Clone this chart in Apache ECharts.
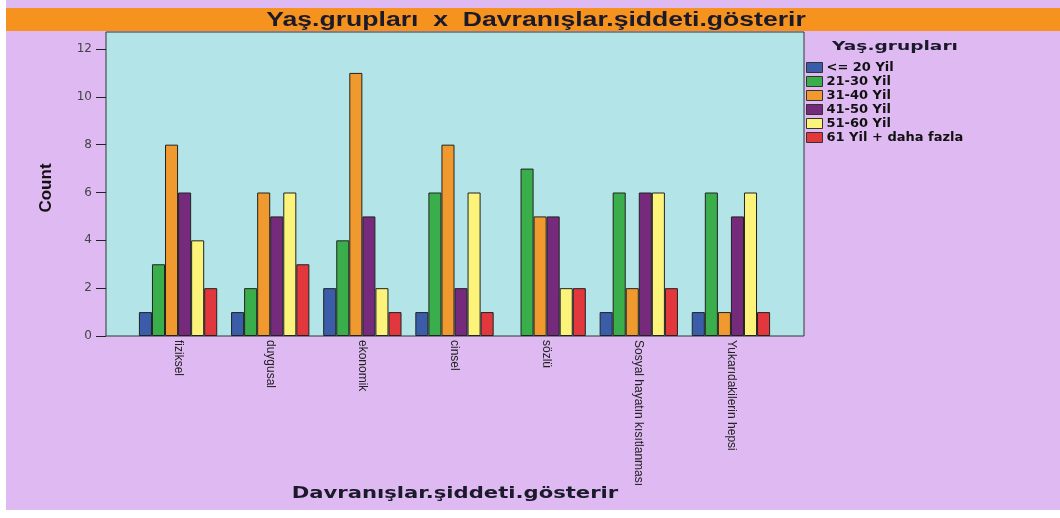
<!DOCTYPE html>
<html>
<head>
<meta charset="utf-8">
<style>
  html, body { margin: 0; padding: 0; background: #ffffff; }
  #chart { width: 1060px; height: 518px; }
</style>
<script src="https://cdn.jsdelivr.net/npm/echarts@6/dist/echarts.min.js"></script>
</head>
<body>
<div id="chart"></div>
<script>
const categories = ["fiziksel", "duygusal", "ekonomik", "cinsel", "sözlü", "Sosyal hayatın kısıtlanması", "Yukarıdakilerin hepsi"];
const groups = ["<= 20 Yil", "21-30 Yil", "31-40 Yil", "41-50 Yil", "51-60 Yil", "61 Yil + daha fazla"];
const colors = ["#3b5da9", "#3aae4a", "#f0992e", "#762a7c", "#fbf37a", "#e2373c"];
const upTo20 = [1, 1, 2, 1, 0, 1, 1];
const age21to30 = [3, 2, 4, 6, 7, 6, 6];
const age31to40 = [8, 6, 11, 8, 5, 2, 1];
const age41to50 = [6, 5, 5, 2, 5, 6, 5];
const age51to60 = [4, 6, 2, 6, 2, 6, 6];
const age61plus = [2, 3, 1, 1, 2, 2, 1];
const seriesValues = [upTo20, age21to30, age31to40, age41to50, age51to60, age61plus];

const chart = echarts.init(document.getElementById("chart"));

// the source picture is stretched sideways, so the texts get a scaleX
chart.setOption({
  backgroundColor: "#ffffff",
  animation: false,
  graphic: [
    { type: "rect", z: -10, shape: { x: 6, y: 0, width: 1054, height: 510 }, style: { fill: "#dfbaf2" } },
    { type: "rect", z: -9, shape: { x: 6, y: 8, width: 1054, height: 23 }, style: { fill: "#f6931f" } },
    {
      type: "text", x: 536, y: 20, scaleX: 1.33, z: 10,
      style: { text: "Yaş.grupları  x  Davranışlar.şiddeti.gösterir", font: "bold 20px 'Liberation Sans', Arial", fill: "#1a1a2a", align: "center", verticalAlign: "middle" }
    },
    {
      type: "text", x: 832, y: 47, scaleX: 1.55, z: 10,
      style: { text: "Yaş.grupları", font: "bold 12px 'DejaVu Sans', Verdana", fill: "#1a1a2a", align: "left", verticalAlign: "middle" }
    },
    {
      type: "text", x: 46, y: 188, rotation: Math.PI / 2, z: 10,
      style: { text: "Count", font: "bold 17px 'Liberation Sans Narrow', 'Liberation Sans', Arial", fill: "#111", align: "center", verticalAlign: "middle" }
    },
    {
      type: "text", x: 455, y: 494, scaleX: 1.32, z: 10,
      style: { text: "Davranışlar.şiddeti.gösterir", font: "bold 16px 'DejaVu Sans', Verdana", fill: "#1a1a2a", align: "center", verticalAlign: "middle" }
    }
  ],
  legend: {
    orient: "vertical",
    left: 806,
    top: 61,
    padding: 0,
    icon: "rect",
    itemWidth: 16,
    itemHeight: 10,
    itemGap: 1,
    selectedMode: false,
    data: groups,
    textStyle: { fontFamily: "'DejaVu Sans', Verdana", fontWeight: "bold", fontSize: 13, lineHeight: 13, color: "#111", padding: [0, 0, 0, -1] },
    itemStyle: { borderColor: "#333", borderWidth: 1 }
  },
  grid: [
    { left: 106, right: 256, top: 32, bottom: 182, show: true, backgroundColor: "#b3e5e8", borderColor: "#333", borderWidth: 1 },
    { left: 132, right: 283, top: 49, bottom: 182 }
  ],
  xAxis: [
    { type: "value", gridIndex: 0, show: false, min: 0, max: 1 },
    {
      type: "category", gridIndex: 1, data: categories,
      axisLine: { show: false },
      axisTick: { alignWithLabel: true, length: 6, lineStyle: { color: "#222" } },
      axisLabel: { rotate: -90, margin: 4, fontFamily: "'Liberation Sans Narrow', 'Liberation Sans', Arial", fontSize: 12, color: "#222" }
    }
  ],
  yAxis: [
    { type: "value", gridIndex: 0, show: false, min: 0, max: 1 },
    {
      type: "value", gridIndex: 1, min: 0, max: 12, interval: 2, offset: 26,
      axisLine: { show: false },
      axisTick: { show: true, length: 10, lineStyle: { color: "#222" } },
      splitLine: { show: false },
      axisLabel: { margin: 14, fontFamily: "'DejaVu Sans', Verdana", fontSize: 12, color: "#444" }
    }
  ],
  series: groups.map((g, i) => ({
    name: g,
    type: "bar",
    xAxisIndex: 1,
    yAxisIndex: 1,
    data: seriesValues[i].map(v => (v === 0 ? null : v)),
    barGap: "0%",
    barCategoryGap: "15%",
    itemStyle: { color: colors[i], borderColor: "#222", borderWidth: 1 }
  }))
});
</script>
</body>
</html>
